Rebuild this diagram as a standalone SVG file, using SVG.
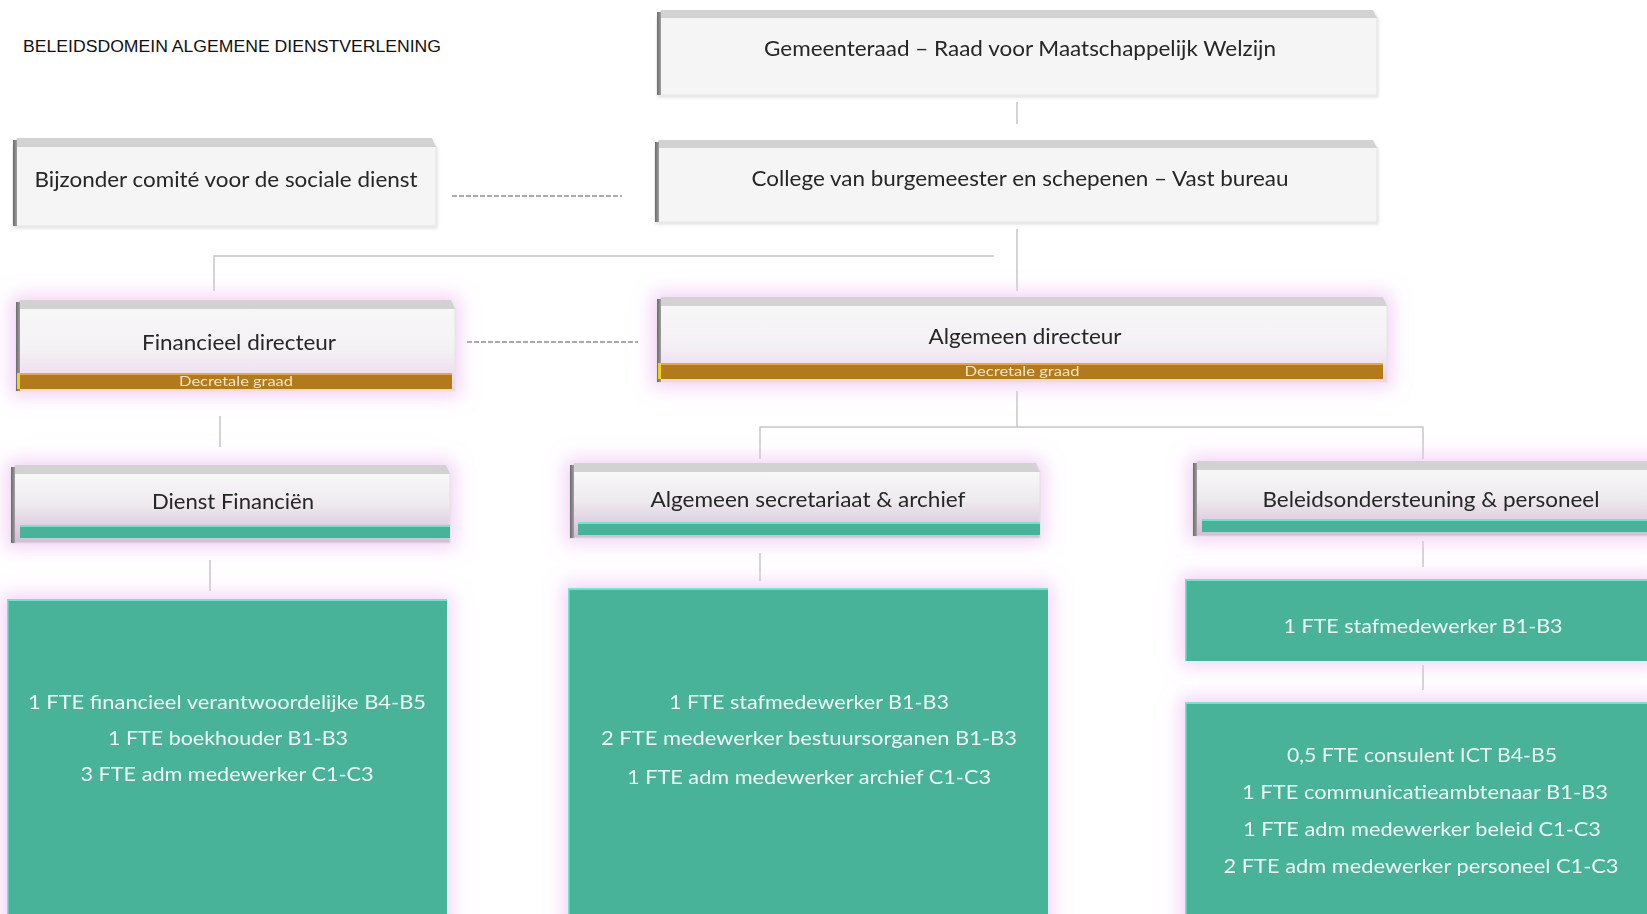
<svg xmlns="http://www.w3.org/2000/svg" width="1647" height="914" viewBox="0 0 1647 914">
<defs>
<style>
.t{font-family:Lato,"Open Sans","Liberation Sans",sans-serif;fill:#262626;text-anchor:middle;font-size:21px}
.w{font-family:Lato,"Open Sans","Liberation Sans",sans-serif;fill:#EEF8F4;text-anchor:middle;font-size:20px}
.s{font-family:Lato,"Open Sans","Liberation Sans",sans-serif;fill:#F6E3C0;text-anchor:middle;font-size:13px}
.top{fill:#D2D2D2}
.body{fill:#F5F5F5;stroke:#E2E2E2;stroke-width:1}
.teal{fill:#49B39A}
.tealhi{fill:#62EBD0}
.orange{fill:#B17A1F}
.orangehi{fill:#EDA636}
.line{stroke:#C6C6C6;stroke-width:1.5;fill:none}
.dash{stroke:#8E8E8E;stroke-width:1.4;stroke-dasharray:5 2;fill:none}
</style>
<linearGradient id="gDir" x1="0" y1="0" x2="0" y2="1">
<stop offset="0" stop-color="#F7F7F7"/><stop offset="0.5" stop-color="#F4F1F4"/><stop offset="1" stop-color="#EAD3EC"/>
</linearGradient>
<linearGradient id="gDienst" x1="0" y1="0" x2="0" y2="1">
<stop offset="0" stop-color="#F8F8F8"/><stop offset="0.45" stop-color="#EEEAEE"/><stop offset="1" stop-color="#D4BCD6"/>
</linearGradient>
<linearGradient id="gLeft" x1="0" y1="0" x2="1" y2="0">
<stop offset="0" stop-color="#6A6A6A"/><stop offset="1" stop-color="#A0A0A0"/>
</linearGradient>
<filter id="glow" x="-20%" y="-60%" width="140%" height="220%">
<feMorphology in="SourceAlpha" operator="dilate" radius="5" result="d"/>
<feGaussianBlur in="d" stdDeviation="9" result="b"/>
<feFlood flood-color="#F1C8F5" flood-opacity="0.8"/>
<feComposite in2="b" operator="in" result="g"/>
<feMerge><feMergeNode in="g"/><feMergeNode in="SourceGraphic"/></feMerge>
</filter>
<filter id="shadow" x="-5%" y="-10%" width="110%" height="130%">
<feDropShadow dx="1" dy="2" stdDeviation="1.5" flood-color="#000" flood-opacity="0.12"/>
</filter>
</defs>
<rect width="1647" height="914" fill="#FFFFFF"/>

<text x="23" y="52" font-family="'Liberation Sans Narrow','Liberation Sans',sans-serif" font-size="16" fill="#111" textLength="418" lengthAdjust="spacingAndGlyphs">BELEIDSDOMEIN ALGEMENE DIENSTVERLENING</text>

<g id="connectors">
<line class="line" x1="1017" y1="102" x2="1017" y2="124"/>
<line class="line" x1="1017" y1="229" x2="1017" y2="291"/>
<polyline class="line" points="214,291 214,256 994,256"/>
<line class="dash" x1="452" y1="196" x2="622" y2="196"/>
<line class="dash" x1="467" y1="342" x2="638" y2="342"/>
<line class="line" x1="220" y1="416" x2="220" y2="447"/>
<line class="line" x1="1017" y1="391" x2="1017" y2="427"/>
<polyline class="line" points="760,459 760,427 1423,427 1423,459"/>
<line class="line" x1="210" y1="560" x2="210" y2="591"/>
<line class="line" x1="760" y1="553" x2="760" y2="581"/>
<line class="line" x1="1423" y1="541" x2="1423" y2="567"/>
<line class="line" x1="1423" y1="665" x2="1423" y2="690"/>
</g>

<g id="gemeenteraad" filter="url(#shadow)">
<rect class="body" x="657" y="17" width="720" height="78"/>
<polygon class="top" points="657,18 661,10 1373,10 1377,18"/>
<rect x="657" y="12" width="4" height="83" fill="url(#gLeft)"/>
<text class="t" x="1020" y="56" textLength="512" lengthAdjust="spacingAndGlyphs">Gemeenteraad – Raad voor Maatschappelijk Welzijn</text>
</g>

<g id="college" filter="url(#shadow)">
<rect class="body" x="655" y="147" width="722" height="75"/>
<polygon class="top" points="655,148 659,140 1373,140 1377,148"/>
<rect x="655" y="142" width="4" height="80" fill="url(#gLeft)"/>
<text class="t" x="1020" y="186" textLength="537" lengthAdjust="spacingAndGlyphs">College van burgemeester en schepenen – Vast bureau</text>
</g>

<g id="bijzonder" filter="url(#shadow)">
<rect class="body" x="13" y="146" width="423" height="80"/>
<polygon class="top" points="13,147 17,138 432,138 436,147"/>
<rect x="13" y="140" width="4" height="86" fill="url(#gLeft)"/>
<text class="t" x="226" y="187" textLength="383" lengthAdjust="spacingAndGlyphs">Bijzonder comité voor de sociale dienst</text>
</g>

<g id="financieel-directeur" filter="url(#glow)">
<rect x="16" y="308" width="439" height="83" fill="url(#gDir)" stroke="#E4E4E4"/>
<polygon class="top" points="16,309 20,300 451,300 455,309"/>
<rect x="16" y="302" width="4" height="89" fill="url(#gLeft)"/>
<rect class="orange" x="17" y="373" width="435" height="16"/>
<rect class="orangehi" x="17" y="373" width="435" height="2"/>
<rect x="17" y="373" width="3" height="16" fill="#F2D21A"/>
<text class="t" x="239" y="350" textLength="194" lengthAdjust="spacingAndGlyphs">Financieel directeur</text>
<text class="s" x="236" y="386" textLength="114" lengthAdjust="spacingAndGlyphs">Decretale graad</text>
</g>

<g id="algemeen-directeur" filter="url(#glow)">
<rect x="657" y="305" width="730" height="77" fill="url(#gDir)" stroke="#E4E4E4"/>
<polygon class="top" points="657,306 661,297 1383,297 1387,306"/>
<rect x="657" y="299" width="4" height="83" fill="url(#gLeft)"/>
<rect class="orange" x="658" y="363" width="725" height="16"/>
<rect class="orangehi" x="658" y="363" width="725" height="2"/>
<rect x="658" y="363" width="3" height="16" fill="#F2D21A"/>
<text class="t" x="1025" y="344" textLength="193" lengthAdjust="spacingAndGlyphs">Algemeen directeur</text>
<text class="s" x="1022" y="376" textLength="115" lengthAdjust="spacingAndGlyphs">Decretale graad</text>
</g>

<g id="dienst-financien" filter="url(#glow)">
<rect x="11" y="473" width="439" height="70" fill="url(#gDienst)" stroke="#E0E0E0"/>
<polygon class="top" points="11,474 15,465 446,465 450,474"/>
<rect x="11" y="467" width="4" height="76" fill="url(#gLeft)"/>
<rect class="teal" x="20" y="525" width="430" height="13"/>
<rect class="tealhi" x="20" y="525" width="430" height="2"/>
<text class="t" x="233" y="509" textLength="162" lengthAdjust="spacingAndGlyphs">Dienst Financiën</text>
</g>

<g id="algemeen-secretariaat" filter="url(#glow)">
<rect x="570" y="471" width="470" height="67" fill="url(#gDienst)" stroke="#E0E0E0"/>
<polygon class="top" points="570,472 574,463 1036,463 1040,472"/>
<rect x="570" y="465" width="4" height="73" fill="url(#gLeft)"/>
<rect class="teal" x="578" y="522" width="462" height="13"/>
<rect class="tealhi" x="578" y="522" width="462" height="2"/>
<text class="t" x="808" y="507" textLength="315" lengthAdjust="spacingAndGlyphs">Algemeen secretariaat &amp; archief</text>
</g>

<g id="beleidsondersteuning" filter="url(#glow)">
<rect x="1193" y="469" width="470" height="67" fill="url(#gDienst)" stroke="#E0E0E0"/>
<polygon class="top" points="1193,470 1197,461 1663,461 1667,470"/>
<rect x="1193" y="463" width="4" height="73" fill="url(#gLeft)"/>
<rect class="teal" x="1202" y="519" width="461" height="13"/>
<rect class="tealhi" x="1202" y="519" width="461" height="2"/>
<text class="t" x="1431" y="507" textLength="337" lengthAdjust="spacingAndGlyphs">Beleidsondersteuning &amp; personeel</text>
</g>

<g id="team-financien" filter="url(#glow)">
<rect class="teal" x="7" y="599" width="440" height="330"/>
<rect class="tealhi" x="7" y="599" width="440" height="2"/>
<rect class="tealhi" x="7" y="599" width="1.5" height="330"/>
<text class="w" x="227" y="709" textLength="398" lengthAdjust="spacingAndGlyphs">1 FTE financieel verantwoordelijke B4-B5</text>
<text class="w" x="228" y="745" textLength="240" lengthAdjust="spacingAndGlyphs">1 FTE boekhouder B1-B3</text>
<text class="w" x="227" y="781" textLength="293" lengthAdjust="spacingAndGlyphs">3 FTE adm medewerker C1-C3</text>
</g>

<g id="team-secretariaat" filter="url(#glow)">
<rect class="teal" x="568" y="588" width="480" height="340"/>
<rect class="tealhi" x="568" y="588" width="480" height="2"/>
<rect class="tealhi" x="568" y="588" width="1.5" height="340"/>
<text class="w" x="809" y="709" textLength="280" lengthAdjust="spacingAndGlyphs">1 FTE stafmedewerker B1-B3</text>
<text class="w" x="809" y="745" textLength="416" lengthAdjust="spacingAndGlyphs">2 FTE medewerker bestuursorganen B1-B3</text>
<text class="w" x="809" y="784" textLength="364" lengthAdjust="spacingAndGlyphs">1 FTE adm medewerker archief C1-C3</text>
</g>

<g id="team-staf" filter="url(#glow)">
<rect class="teal" x="1185" y="579" width="470" height="82"/>
<rect class="tealhi" x="1185" y="579" width="470" height="2"/>
<rect class="tealhi" x="1185" y="579" width="1.5" height="82"/>
<text class="w" x="1423" y="633" textLength="279" lengthAdjust="spacingAndGlyphs">1 FTE stafmedewerker B1-B3</text>
</g>

<g id="team-beleid" filter="url(#glow)">
<rect class="teal" x="1185" y="702" width="470" height="230"/>
<rect class="tealhi" x="1185" y="702" width="470" height="2"/>
<rect class="tealhi" x="1185" y="702" width="1.5" height="230"/>
<text class="w" x="1422" y="762" textLength="270" lengthAdjust="spacingAndGlyphs">0,5 FTE consulent ICT B4-B5</text>
<text class="w" x="1425" y="799" textLength="366" lengthAdjust="spacingAndGlyphs">1 FTE communicatieambtenaar B1-B3</text>
<text class="w" x="1422" y="836" textLength="358" lengthAdjust="spacingAndGlyphs">1 FTE adm medewerker beleid C1-C3</text>
<text class="w" x="1421" y="873" textLength="395" lengthAdjust="spacingAndGlyphs">2 FTE adm medewerker personeel C1-C3</text>
</g>
</svg>
